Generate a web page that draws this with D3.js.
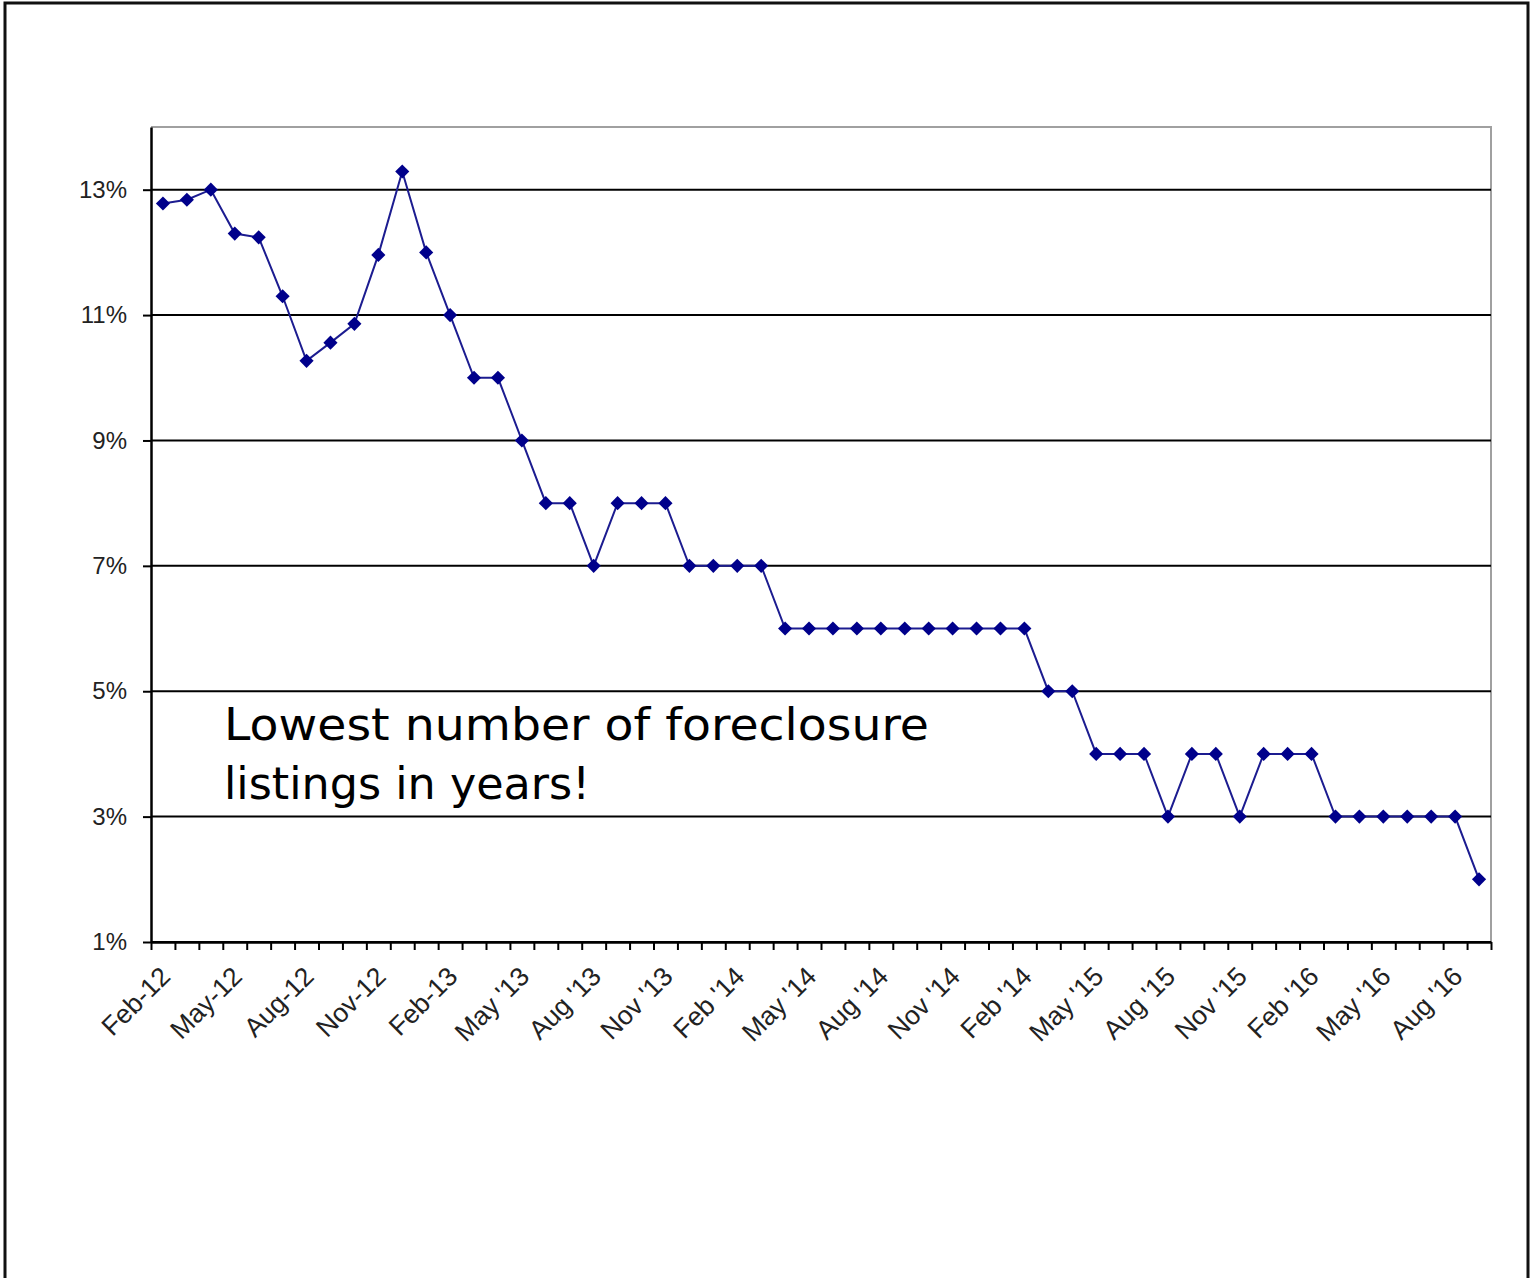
<!DOCTYPE html>
<html>
<head>
<meta charset="utf-8">
<script src="https://cdn.jsdelivr.net/npm/d3@7/dist/d3.min.js"></script>
<style>
  html, body { margin: 0; padding: 0; background: #fff; }
  svg { display: block; }
</style>
</head>
<body>
<svg id="chart" width="1538" height="1278"></svg>
<script>
// Monthly share of listings that are foreclosures, Feb 2012 – Sep 2016
const months = [
  "Feb-12","Mar-12","Apr-12","May-12","Jun-12","Jul-12","Aug-12","Sep-12","Oct-12","Nov-12","Dec-12",
  "Jan-13","Feb-13","Mar-13","Apr-13","May-13","Jun-13","Jul-13","Aug-13","Sep-13","Oct-13","Nov-13","Dec-13",
  "Jan-14","Feb-14","Mar-14","Apr-14","May-14","Jun-14","Jul-14","Aug-14","Sep-14","Oct-14","Nov-14","Dec-14",
  "Jan-15","Feb-15","Mar-15","Apr-15","May-15","Jun-15","Jul-15","Aug-15","Sep-15","Oct-15","Nov-15","Dec-15",
  "Jan-16","Feb-16","Mar-16","Apr-16","May-16","Jun-16","Jul-16","Aug-16","Sep-16"
];
const foreclosurePct = [
  12.78, 12.84, 13.0, 12.3, 12.24, 11.3, 10.27, 10.56, 10.86, 11.96, 13.29,
  12.0, 11.0, 10.0, 10.0, 9.0, 8.0, 8.0, 7.0, 8.0, 8.0, 8.0, 7.0,
  7.0, 7.0, 7.0, 6.0, 6.0, 6.0, 6.0, 6.0, 6.0, 6.0, 6.0, 6.0,
  6.0, 6.0, 5.0, 5.0, 4.0, 4.0, 4.0, 3.0, 4.0, 4.0, 3.0, 4.0,
  4.0, 4.0, 3.0, 3.0, 3.0, 3.0, 3.0, 3.0, 2.0
];
// every third month gets a label
const xTickLabels = [
  "Feb-12","May-12","Aug-12","Nov-12","Feb-13","May '13","Aug '13","Nov '13","Feb '14",
  "May '14","Aug '14","Nov '14","Feb '14","May '15","Aug '15","Nov '15","Feb '16","May '16","Aug '16"
];
const yTicks = [1, 3, 5, 7, 9, 11, 13];
const noteLines = ["Lowest number of foreclosure", "listings in years!"];

const svg = d3.select("#chart");
const plot = { left: 151, right: 1491, top: 127, bottom: 942 };

const x = d3.scaleBand().domain(months).range([plot.left, plot.right]).padding(0);
const xEdges = d3.scaleLinear().domain([0, months.length]).range([plot.left, plot.right]);
const y = d3.scaleLinear().domain([1, 14]).range([plot.bottom, plot.top]);

// outer frame (open at the bottom)
svg.append("path")
  .attr("d", `M5,1278 L5,3 L1528,3 L1528,1278`)
  .attr("fill", "none")
  .attr("stroke", "#111")
  .attr("stroke-width", 3);

// plot-area frame: grey top and right edges
svg.append("path")
  .attr("d", `M${plot.left},${plot.top} L${plot.right},${plot.top} L${plot.right},${plot.bottom}`)
  .attr("fill", "none")
  .attr("stroke", "#a0a0a0")
  .attr("stroke-width", 2);

// horizontal gridlines
svg.append("g")
  .selectAll("line")
  .data(yTicks)
  .join("line")
  .attr("x1", plot.left)
  .attr("x2", plot.right)
  .attr("y1", d => y(d))
  .attr("y2", d => y(d))
  .attr("stroke", "#000")
  .attr("stroke-width", 2);

// y axis
const yAxis = svg.append("g")
  .attr("transform", `translate(${plot.left},0)`)
  .call(d3.axisLeft(y).tickValues(yTicks).tickSize(8).tickSizeOuter(0).tickPadding(16).tickFormat(d => d + "%"));
yAxis.select(".domain").attr("stroke", "#000").attr("stroke-width", 2.5);
yAxis.selectAll(".tick line").attr("stroke", "#000").attr("stroke-width", 2);
yAxis.selectAll(".tick text")
  .attr("font-family", "'Liberation Sans', Arial, sans-serif")
  .attr("font-size", 24)
  .attr("fill", "#222");

// x axis: a tick at every month boundary
const xAxis = svg.append("g")
  .attr("transform", `translate(0,${plot.bottom})`)
  .call(d3.axisBottom(xEdges).tickValues(d3.range(months.length + 1)).tickSize(8).tickSizeOuter(0).tickFormat(""));
xAxis.select(".domain").attr("stroke", "#000").attr("stroke-width", 2.5);
xAxis.selectAll(".tick line").attr("stroke", "#000").attr("stroke-width", 2);

// rotated month labels
const labelMonths = months.filter((m, i) => i % 3 === 0);
svg.append("g")
  .selectAll("text")
  .data(labelMonths)
  .join("text")
  .attr("transform", m => `translate(${x(m) + x.bandwidth() / 2 + 9},${plot.bottom + 36}) rotate(-45)`)
  .attr("text-anchor", "end")
  .attr("font-family", "'Liberation Sans', Arial, sans-serif")
  .attr("font-size", 26.5)
  .attr("fill", "#222")
  .text((m, i) => xTickLabels[i]);

// series line
const cx = m => x(m) + x.bandwidth() / 2;
svg.append("path")
  .datum(months)
  .attr("d", d3.line().x(cx).y((m, i) => y(foreclosurePct[i])))
  .attr("fill", "none")
  .attr("stroke", "#1c1c90")
  .attr("stroke-width", 2);

// diamond markers
svg.append("g")
  .selectAll("path")
  .data(months)
  .join("path")
  .attr("d", d3.symbol(d3.symbolSquare, 100))
  .attr("transform", (m, i) => `translate(${cx(m)},${y(foreclosurePct[i])}) rotate(45)`)
  .attr("fill", "#00008b");

// annotation
svg.append("g")
  .selectAll("text")
  .data(noteLines)
  .join("text")
  .attr("x", 224)
  .attr("y", (d, i) => 740 + i * 59)
  .attr("font-family", "'DejaVu Sans', Verdana, sans-serif")
  .attr("font-size", 44)
  .attr("fill", "#000")
  .attr("textLength", (d, i) => i === 0 ? 705 : 366)
  .attr("lengthAdjust", "spacingAndGlyphs")
  .text(d => d);
</script>
</body>
</html>
